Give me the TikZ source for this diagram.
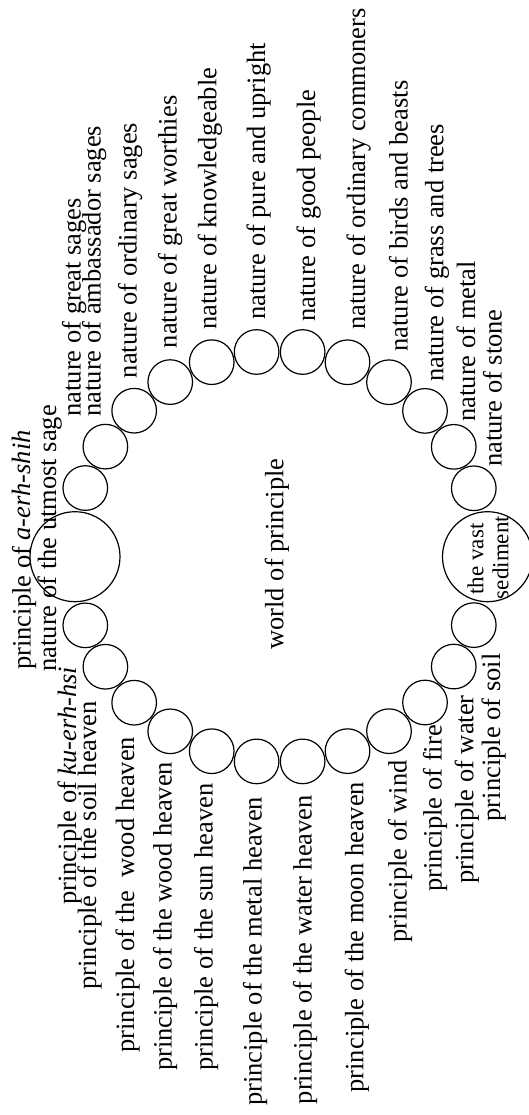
\documentclass[tikz,border=0pt]{standalone}
\usepackage{fontspec}
\setmainfont{Liberation Serif}
\begin{document}
\begin{tikzpicture}[x=1pt,y=-1pt,
  ring/.style={draw,circle,line width=1.2pt,inner sep=0pt},
  smallc/.style={ring,minimum size=44.6pt},
  bigc/.style={ring,minimum size=90pt},
  lbl/.style={rotate=90,inner sep=0pt,font=\fontsize{26.5}{28}\selectfont},
  outlbl/.style={lbl,anchor=base west},
  inlbl/.style={lbl,anchor=base east},
  smalllbl/.style={lbl,anchor=base,font=\fontsize{23}{25}\selectfont}]
\useasboundingbox (0,0) rectangle (528,1115);
% ring of circles
\node[bigc] (top) at (75,556.7) {};
\node[bigc] (bottom) at (487.5,556.7) {};
\foreach \i in {0,...,11} {
  \pgfmathsetmacro\a{19.4+12.83*\i}
  \node[smallc] (u\i) at ({279.5+206*cos(\a)},{556.7-206*sin(\a)}) {};
  \node[smallc] (l\i) at ({279.5+206*cos(\a)},{556.7+206*sin(\a)}) {};
}
% centre
\node[lbl,anchor=base] (world) at (283.3,554) {world of principle};
\node[smalllbl] (vast) at (483.3,559) {the vast};
\node[smalllbl] (sed) at (508.3,557.5) {sediment};
% big circle labels
\node[outlbl] (p0) at (30.7,670) {principle of \textit{a-erh-shih}};
\node[outlbl] (n0) at (56,671.7) {nature of the utmost sage};
% nature labels
\node[outlbl] (n1) at (80.7,416.7) {nature of great sages};
\node[outlbl] (n2) at (100.7,416.7) {nature of ambassador sages};
\node[outlbl] (n3) at (136.7,378.3) {nature of ordinary sages};
\node[outlbl] (n4) at (176.7,348.3) {nature of great worthies};
\node[outlbl] (n5) at (216.3,330) {nature of knowledgeable};
\node[outlbl] (n6) at (265,320) {nature of pure and upright};
\node[outlbl] (n7) at (315,321.7) {nature of good people};
\node[outlbl] (n8) at (365,330) {nature of ordinary commoners};
\node[outlbl] (n9) at (407.5,351.7) {nature of birds and beasts};
\node[outlbl] (n10) at (443.3,381.7) {nature of grass and trees};
\node[outlbl] (n11) at (475,421.7) {nature of metal};
\node[outlbl] (n12) at (501.7,467) {nature of stone};
% principle labels
\node[outlbl] (p1) at (76,905) {principle of \textit{ku-erh-hsi}};
\node[inlbl] (p2) at (96,701) {principle of the soil heaven};
\node[inlbl] (p3) at (134,736.7) {principle of the\hspace{0.5em}wood heaven};
\node[inlbl] (p4) at (171.7,761.7) {principle of the wood heaven};
\node[inlbl] (p5) at (212.5,783.3) {principle of the sun heaven};
\node[inlbl] (p6) at (261.7,796.7) {principle of the metal heaven};
\node[inlbl] (p7) at (311.7,795) {principle of the water heaven};
\node[inlbl] (p8) at (363.3,781.7) {principle of the moon heaven};
\node[inlbl] (p9) at (406.7,760) {principle of wind};
\node[inlbl] (p10) at (441.7,725) {principle of fire};
\node[inlbl] (p11) at (473.3,695) {principle of water};
\node[inlbl] (p12) at (500,653.3) {principle of soil};
\end{tikzpicture}
\end{document}
